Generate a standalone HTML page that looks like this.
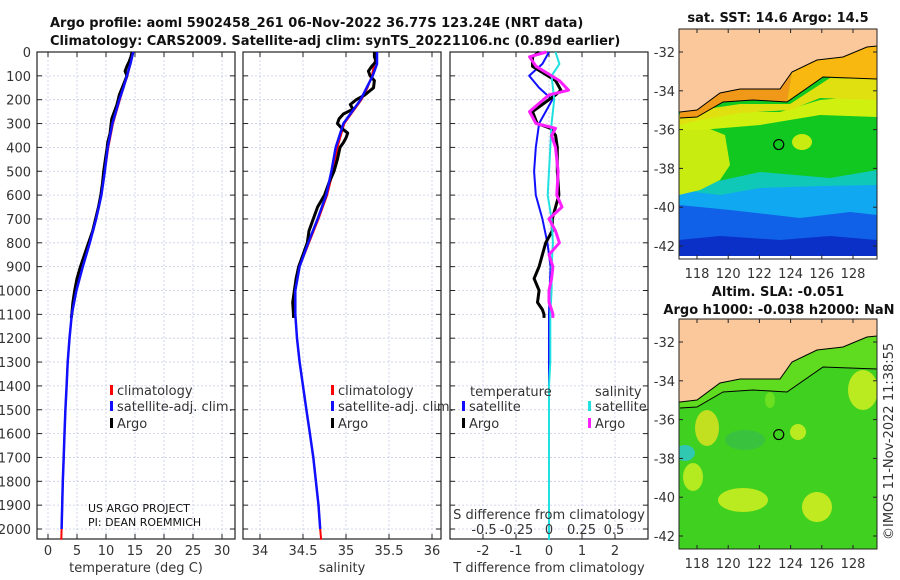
<!DOCTYPE html>
<html><head><meta charset="utf-8"><style>
html,body{margin:0;padding:0;background:#fff;}
svg{display:block;font-family:"DejaVu Sans","Liberation Sans",sans-serif;}
.t{font-size:13px;fill:#333;}
.b{font-size:13px;font-weight:bold;fill:#111;}
.s{font-size:11px;fill:#111;}
</style></head><body>
<svg id="c" width="900" height="580" viewBox="0 0 900 580">
<text class="b" x="50" y="27">Argo profile: aoml 5902458_261 06-Nov-2022 36.77S 123.24E (NRT data)</text>
<text class="b" x="50" y="45">Climatology: CARS2009. Satellite-adj clim: synTS_20221106.nc (0.89d earlier)</text>
<g id="panels"></g>
<g id="maps"></g>
</svg>
<script>
// ---- data ----
const depthAxisTicks=[0,100,200,300,400,500,600,700,800,900,1000,1100,1200,1300,1400,1500,1600,1700,1800,1900,2000];
const climDepths=[0,50,100,150,200,250,300,400,500,600,700,800,900,1000,1100,1200,1300,1400,1500,1600,1700,1800,1900,2000,2045];
const tempClim=[14.6,14.2,13.7,13.0,12.4,11.8,11.2,10.4,9.8,9.2,8.3,7.2,6.0,4.9,4.1,3.7,3.4,3.2,3.0,2.85,2.7,2.55,2.45,2.35,2.3];
const tempSat=[14.7,14.2,13.6,13.0,12.3,11.7,11.1,10.3,9.8,9.2,8.3,7.2,6.0,4.9,4.1,3.7,3.4,3.2,3.0,2.85,2.7,2.55,2.45,2.35,2.3];
const salClim=[35.35,35.33,35.30,35.25,35.18,35.08,34.98,34.90,34.85,34.78,34.68,34.57,34.46,34.41,34.41,34.43,34.46,34.50,34.54,34.58,34.62,34.65,34.68,34.70,34.71];
const salSat=[35.36,35.36,35.31,35.24,35.17,35.07,34.97,34.88,34.83,34.77,34.67,34.56,34.46,34.41,34.41,34.43,34.46,34.50,34.54,34.58,34.62,34.65,34.68,34.70,34.71];
const argoDepths=[0,20,40,60,80,100,120,150,180,200,220,240,260,280,300,320,340,360,380,400,450,500,550,600,650,700,750,800,850,900,950,1000,1050,1100,1115];
const tempArgo=[14.5,14.3,14.0,13.6,13.3,13.6,13.3,12.8,12.3,12.1,11.9,11.6,11.3,11.0,10.9,10.8,10.7,10.5,10.3,10.2,9.9,9.6,9.4,9.1,8.7,8.2,7.7,7.0,6.3,5.6,5.0,4.6,4.3,4.1,4.0];
const salArgo=[35.33,35.33,35.35,35.30,35.26,35.28,35.33,35.32,35.22,35.12,35.05,35.08,34.97,34.92,34.90,34.95,35.02,35.00,34.97,34.93,34.90,34.86,34.80,34.75,34.67,34.62,34.57,34.55,34.50,34.45,34.42,34.40,34.38,34.39,34.39];
const tDiffSat=[0,-0.2,-0.6,-0.3,0.1,-0.1,-0.3,-0.4,-0.45,-0.4,-0.2,-0.05,0.05,0.02,0,0,0,0,0,0,0,0,0,0,0];
const tDiffArgo=[-0.3,-0.5,-0.5,0.2,0.36,0.2,-0.5,-0.36,0.05,0.2,0.25,0.25,0.3,0.2,0.1,0.1,-0.1,-0.2,-0.3,-0.45,-0.3,-0.35,-0.2,-0.15,-0.15];
const tDiffArgoDepths=[0,20,60,120,160,180,250,300,320,350,400,500,600,650,700,750,800,850,900,950,1000,1050,1080,1100,1115];
const sDiffSat=[0.05,0.08,0.02,0.03,0.04,0.03,0.02,0.01,0,-0.01,0.02,0.03,0.02,0.02,0.01,0.01,0.01,0,0,0,0,0,0,0,0];
const sDiffArgo=[-0.02,-0.15,-0.1,0.08,0.15,0,-0.15,-0.1,0.05,0.02,0.05,0.07,0.06,0.1,0.0,0.05,0.08,0.0,0.03,0.02,0.0,0.0,0.02,0.03,0.03];
const tempTicks=[0,5,10,15,20,25,30];
const salTicks=[34,34.5,35,35.5,36];
const tdTicks=[-2,-1,0,1,2];
const sdTicks=[-0.5,-0.25,0,0.25,0.5];
const lonTicks=[118,120,122,124,126,128];
const latTicks=[-32,-34,-36,-38,-40,-42];

const NS='http://www.w3.org/2000/svg';
function el(tag,attrs,parent,txt){const e=document.createElementNS(NS,tag);for(const k in attrs)e.setAttribute(k,attrs[k]);if(txt!==undefined)e.textContent=txt;parent.appendChild(e);return e;}
const y=d=>52+d*0.2385;
const TOP=52,BOT=539;
const xT=v=>48+v*5.8;
const xS=v=>260+(v-34)*86;
const xTD=v=>549+v*33;
const xSD=v=>549+v*130;
const P=document.getElementById('panels');

function panel(name,x0,x1,xs,ticks,fmt,xlab){
  const g=el('g',{},P);
  
  
  depthAxisTicks.forEach(d=>{el('line',{x1:x0,x2:x1,y1:y(d),y2:y(d),stroke:'#c8cce8','stroke-width':0.8,'stroke-dasharray':'2,2'},g);
    el('line',{x1:x0,x2:x0+5,y1:y(d),y2:y(d),stroke:'#222'},g);el('line',{x1:x1-5,x2:x1,y1:y(d),y2:y(d),stroke:'#222'},g);});
  ticks.forEach(v=>{el('line',{x1:xs(v),x2:xs(v),y1:TOP,y2:BOT,stroke:'#c8cce8','stroke-width':0.8,'stroke-dasharray':'2,2'},g);
    el('line',{x1:xs(v),x2:xs(v),y1:BOT-5,y2:BOT,stroke:'#222'},g);el('line',{x1:xs(v),x2:xs(v),y1:TOP,y2:TOP+5,stroke:'#222'},g);
    const t=el('text',{class:'t',x:xs(v),y:555,'text-anchor':'middle'},g,fmt(v));
    
    });
  el('rect',{x:x0,y:TOP,width:x1-x0,height:BOT-TOP,fill:'none',stroke:'#222','stroke-width':1.2},g);
  const l=el('text',{class:'t',x:(x0+x1)/2,y:572,'text-anchor':'middle'},g,xlab);
  
  
  return g;
}
function line(g,xs,ds,vs,col,w,name){
  const p=el('polyline',{points:ds.map((d,i)=>xs(vs[i]).toFixed(1)+','+y(d).toFixed(1)).join(' '),fill:'none',stroke:col,'stroke-width':w,'stroke-linejoin':'round'},g);
  
  
}
const DL=el('g',{},P);


depthAxisTicks.forEach(d=>el('text',{class:'t',x:31,y:y(d)+5,'text-anchor':'end'},DL,String(d)));

const g1=panel('temperature-panel',37,235,xT,tempTicks,String,'temperature (deg C)');
line(g1,xT,climDepths,tempClim,'#f00',2,'temp-climatology-line');
line(g1,xT,argoDepths,tempArgo,'#000',3,'temp-argo-line');
line(g1,xT,climDepths.slice(0,24),tempSat.slice(0,24),'#1010ff',2.5,'temp-satellite-line');
const g2=panel('salinity-panel',243,441,xS,salTicks,String,'salinity');
line(g2,xS,climDepths,salClim,'#f00',2,'sal-climatology-line');
line(g2,xS,argoDepths,salArgo,'#000',3,'sal-argo-line');
line(g2,xS,climDepths.slice(0,24),salSat.slice(0,24),'#1010ff',2.5,'sal-satellite-line');
const g3=panel('difference-panel',450,648,xTD,tdTicks,String,'T difference from climatology');
line(g3,xTD,climDepths,tDiffSat,'#1010ff',2,'tdiff-satellite-line');
line(g3,xTD,tDiffArgoDepths,tDiffArgo,'#000',3,'tdiff-argo-line');
line(g3,xSD,climDepths,sDiffSat,'#20e0e0',2,'sdiff-satellite-line');
line(g3,xSD,tDiffArgoDepths,sDiffArgo,'#ff20ff',3,'sdiff-argo-line');
el('text',{class:'t',x:549,y:519,'text-anchor':'middle'},g3,'S difference from climatology');
sdTicks.forEach(v=>el('text',{class:'t',x:xSD(v),y:534,'text-anchor':'middle'},g3,String(v)));

function legend(g,x,yy,col,txt){el('rect',{x:x-1,y:yy-7,width:3,height:10,fill:col},g);const t=el('text',{class:'t',x:x+6,y:yy+3},g,txt);}
legend(g1,111,392,'#f00','climatology');legend(g1,111,408,'#1010ff','satellite-adj. clim.');legend(g1,111,425,'#000','Argo');
legend(g2,332,392,'#f00','climatology');legend(g2,332,408,'#1010ff','satellite-adj. clim.');legend(g2,332,425,'#000','Argo');
el('text',{class:'t',x:470,y:396},g3,'temperature');el('text',{class:'t',x:595,y:396},g3,'salinity');
legend(g3,463,408,'#1010ff','satellite');legend(g3,463,425,'#000','Argo');
legend(g3,589,408,'#20e0e0','satellite');legend(g3,589,425,'#ff20ff','Argo');
el('text',{class:'s',x:88,y:512},g1,'US ARGO PROJECT');
el('text',{class:'s',x:88,y:526},g1,'PI: DEAN ROEMMICH');

// ---- maps ----
const M=document.getElementById('maps');
const coast=[[680,112],[697,110],[720,93],[740,89],[780,89],[792,72],[817,60],[843,57],[867,47],[877,46]];
const shelf=[[680,118],[697,117],[723,102],[753,100],[787,102],[823,77],[877,79]];
function pts(a,o){return a.map(p=>p[0]+','+(p[1]+o)).join(' ');}
function map(name,top,kind){
  const g=el('g',{},M);
  
  
  const L=679,R=877,B=top+230;
  const lx=v=>697+(v-118)*15.6, ly=v=>top+23+(-32-v)*19.4;
  const cid='clip'+top;
  const cp=el('clipPath',{id:cid},g);el('rect',{x:L,y:top,width:R-L,height:B-top},cp);
  const f=el('g',{'clip-path':'url(#'+cid+')'},g);
  const o=top-29;
  if(kind==='sst'){
    el('rect',{x:L,y:top,width:R-L,height:230,fill:'#0a30c8'},f);
    el('path',{d:`M679 ${o+240} L720 ${o+236} L780 ${o+240} L830 ${o+236} L877 ${o+240} L877 29 L679 29Z`,fill:'#1060e8'},f);
    el('path',{d:`M679 ${o+205} L730 ${o+210} L800 ${o+218} L850 ${o+212} L877 ${o+215} L877 29 L679 29Z`,fill:'#10a8f0'},f);
    el('path',{d:`M679 ${o+190} L720 ${o+195} L760 ${o+188} L820 ${o+186} L877 ${o+185} L877 29 L679 29Z`,fill:'#10c8b8'},f);
    el('path',{d:`M679 ${o+195} L700 ${o+185} L760 ${o+172} L830 ${o+178} L877 ${o+170} L877 29 L679 29Z`,fill:'#10c820'},f);
    el('path',{d:`M679 ${o+125} L700 ${o+125} L725 ${o+135} L730 ${o+165} L720 ${o+180} L700 ${o+190} L679 ${o+195}Z`,fill:'#c8ec10'},f);
    el('ellipse',{cx:802,cy:o+142,rx:10,ry:8,fill:'#c8ec10'},f);
    el('path',{d:`M679 120 L720 112 L780 112 L820 100 L877 95 L877 117 L820 115 L760 125 L700 130 L679 130Z`,fill:'#d0f010'},f);
    el('path',{d:`M679 115 L700 110 L740 104 L790 104 L830 78 L877 79 L877 100 L820 98 L790 110 L740 113 L700 120 L679 125Z`,fill:'#e0e010'},f);
    el('polygon',{points:pts(coast.slice(0,6),o)+' '+pts(shelf.slice(0,5).reverse(),o),fill:'#f09818'},f);
    el('polygon',{points:pts(coast.slice(5),o)+' '+pts(shelf.slice(4).reverse(),o),fill:'#f8b810'},f);
    el('rect',{x:L,y:top+227,width:R-L,height:3,fill:'#fff'},f);
  } else {
    el('rect',{x:L,y:top,width:R-L,height:230,fill:'#40d020'},f);
    [[707,428,12,18,'#d0e020'],[798,432,8,8,'#c8ec20'],[693,477,10,14,'#c0ec20'],[743,500,25,12,'#c8ec20'],[817,507,15,15,'#d0ec20'],[863,390,15,20,'#c8ec20'],[770,400,5,8,'#70e020'],[745,440,20,10,'#38c040']].forEach(a=>el('ellipse',{cx:a[0],cy:a[1],rx:a[2],ry:a[3],fill:a[4],opacity:0.9},f));
    el('ellipse',{cx:685,cy:453,rx:10,ry:8,fill:'#30c8b0'},f);
    el('polygon',{points:pts(coast,o)+' '+pts(shelf.slice().reverse(),o),fill:'#60dc20'},f);
  }
  el('path',{d:`M679 ${top} L877 ${top} L877 ${o+46} `+coast.slice().reverse().map(p=>'L'+p[0]+' '+(p[1]+o)).join(' ')+` L679 ${o+112}Z`,fill:'#fac89a',stroke:'#000','stroke-width':1},f);
  el('polyline',{points:pts(shelf,o),fill:'none',stroke:'#000','stroke-width':1},f);
  el('circle',{cx:lx(123.24),cy:ly(-36.77),r:5,fill:'none',stroke:'#000','stroke-width':1.2},f);
  el('rect',{x:L,y:top,width:R-L,height:230,fill:'none',stroke:'#222'},g);
  lonTicks.forEach(v=>{el('line',{x1:lx(v),x2:lx(v),y1:B,y2:B-4,stroke:'#222'},g);el('line',{x1:lx(v),x2:lx(v),y1:top,y2:top+4,stroke:'#222'},g);el('text',{class:'t',x:lx(v),y:B+19,'text-anchor':'middle'},g,String(v));});
  latTicks.forEach(v=>{el('line',{x1:L,x2:L+4,y1:ly(v),y2:ly(v),stroke:'#222'},g);el('line',{x1:R-4,x2:R,y1:ly(v),y2:ly(v),stroke:'#222'},g);el('text',{class:'t',x:L-4,y:ly(v)+5,'text-anchor':'end'},g,String(v));});
}
map('sst-map',29,'sst');
map('sla-map',319,'sla');
el('text',{class:'b',x:778,y:22,'text-anchor':'middle'},M,'sat. SST: 14.6 Argo: 14.5');
el('text',{class:'b',x:778,y:296,'text-anchor':'middle'},M,'Altim. SLA: -0.051');
el('text',{class:'b',x:779,y:314,'text-anchor':'middle'},M,'Argo h1000: -0.038 h2000: NaN');
el('text',{class:'t',x:0,y:0,transform:'translate(893,540) rotate(-90)'},M,'©IMOS 11-Nov-2022 11:38:55');
</script>
</body></html>
